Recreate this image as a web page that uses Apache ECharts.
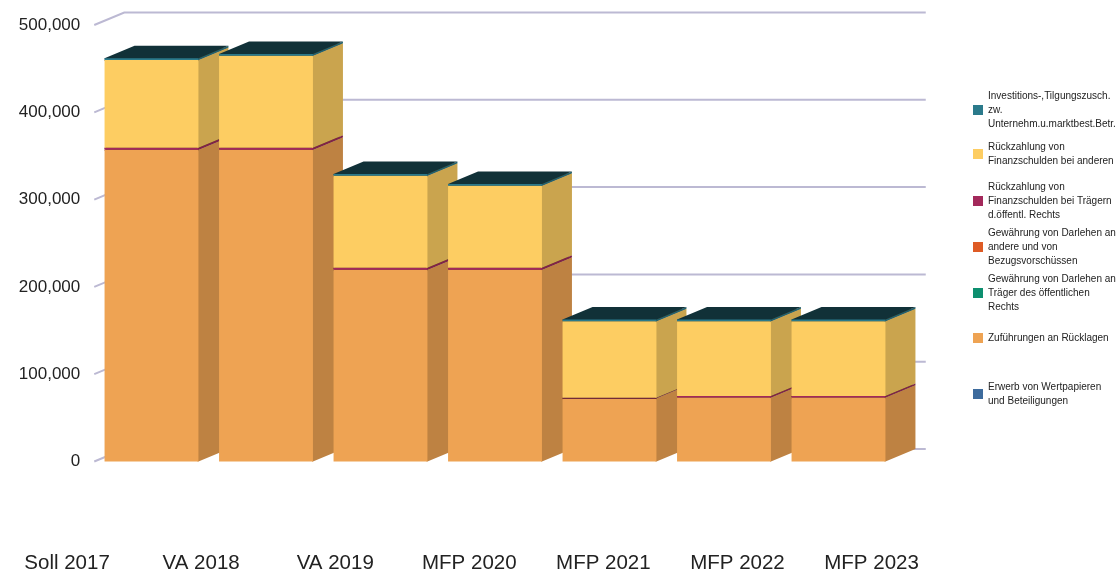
<!DOCTYPE html>
<html>
<head>
<meta charset="utf-8">
<script src="https://cdn.jsdelivr.net/npm/echarts@6/dist/echarts.min.js"></script>
<style>
html, body { margin: 0; padding: 0; background: #fff; }
#chart { width: 1116px; height: 572px; }
</style>
</head>
<body>
<div id="chart"></div>
<script>
// categories + tick values
var years = ['Soll 2017', 'VA 2018', 'VA 2019', 'MFP 2020', 'MFP 2021', 'MFP 2022', 'MFP 2023'];
var yTicks = [0, 100000, 200000, 300000, 400000, 500000];

// values per stack segment (bottom -> top)
var erwerb          = [0, 0, 0, 0, 0, 0, 0];
var ruecklagen      = [357200, 357200, 219700, 219700, 72400, 73300, 73300];
var darlehenTraeger = [0, 0, 0, 0, 0, 0, 0];
var darlehenAndere  = [0, 0, 0, 0, 0, 0, 0];
var rueckTraeger    = [2300, 2300, 2300, 2300, 500, 1700, 1700];
var rueckAndere     = [100400, 105300, 105400, 93900, 87700, 85600, 85600];
var zuschuss        = [2000, 2000, 2000, 2000, 2000, 2000, 2000];

var stack = [
    { name: 'Erwerb von Wertpapieren\nund Beteiligungen', values: erwerb, color: '#3D6B9D' },
    { name: 'Zuführungen an Rücklagen', values: ruecklagen, color: '#EEA353' },
    { name: 'Gewährung von Darlehen an\nTräger des öffentlichen\nRechts', values: darlehenTraeger, color: '#0D8F6F' },
    { name: 'Gewährung von Darlehen an\nandere und von\nBezugsvorschüssen', values: darlehenAndere, color: '#DE5B25' },
    { name: 'Rückzahlung von\nFinanzschulden bei Trägern\nd.öffentl. Rechts', values: rueckTraeger, color: '#A3295B' },
    { name: 'Rückzahlung von\nFinanzschulden bei anderen', values: rueckAndere, color: '#FDCD62' },
    { name: 'Investitions-,Tilgungszusch.\nzw.\nUnternehm.u.marktbest.Betr.', values: zuschuss, color: '#2B7A8B' }
];

// 3d depth offset
var DX = 30, DY = -12.5;
var FONT = '"Liberation Sans", Arial, sans-serif';

function shade(hex, f) {
    var n = parseInt(hex.slice(1), 16);
    var r = Math.round(((n >> 16) & 255) * f);
    var g = Math.round(((n >> 8) & 255) * f);
    var b = Math.round((n & 255) * f);
    return 'rgb(' + r + ',' + g + ',' + b + ')';
}

function boxItem(color) {
    return function (params, api) {
        var c = api.value(0);
        var lo = api.coord([c, api.value(1)]);
        var hi = api.coord([c, api.value(2)]);
        var h = lo[1] - hi[1];
        if (h <= 0.05) return null;
        var w = api.size([1, 0])[0] * 0.82;
        var x0 = lo[0] - w / 2, x1 = lo[0] + w / 2;
        var yb = lo[1], yt = hi[1];
        // side + top start a bit under the front face so no seam shows
        return {
            type: 'group',
            children: [
                { type: 'polygon', shape: { points: [[x1 - 1, yb], [x1, yb], [x1 + DX, yb + DY], [x1 + DX, yt + DY], [x1, yt], [x1 - 1, yt]] },
                  style: { fill: shade(color, 0.8) } },
                { type: 'polygon', shape: { points: [[x0, yt + 1], [x1, yt + 1], [x1, yt], [x1 + DX, yt + DY], [x0 + DX, yt + DY], [x0, yt]] },
                  style: { fill: shade(color, 0.4) } },
                { type: 'rect', shape: { x: x0, y: yt, width: x1 - x0, height: h },
                  style: { fill: color } }
            ]
        };
    };
}

var series = [];

// back-plane grid lines with diagonal ticks
series.push({
    type: 'custom',
    silent: true,
    z: 1,
    data: yTicks.map(function (v) { return [0, v]; }),
    encode: { x: 0, y: 1 },
    renderItem: function (params, api) {
        var cs = params.coordSys;
        var y = api.coord([0, api.value(1)])[1];
        return {
            type: 'polyline',
            shape: { points: [[cs.x, y], [cs.x + DX, y + DY], [cs.x + cs.width + DX, y + DY]] },
            style: { stroke: '#bcb9d3', lineWidth: 2, fill: null }
        };
    }
});

var base = years.map(function () { return 0; });
stack.forEach(function (s) {
    var data = s.values.map(function (v, i) {
        var item = [i, base[i], base[i] + v];
        base[i] += v;
        return item;
    });
    series.push({
        type: 'custom',
        name: s.name,
        z: 2,
        itemStyle: { color: s.color },
        data: data,
        encode: { x: 0, y: [1, 2] },
        renderItem: boxItem(s.color)
    });
});

// legend: one block per entry, top to bottom
var legendOrder = stack.slice().reverse();
var legendTops = [89, 140, 180, 226, 272, 331, 380];
var legends = legendOrder.map(function (s, i) {
    return {
        data: [s.name],
        orient: 'vertical',
        left: 973,
        top: legendTops[i],
        padding: 0,
        itemWidth: 10,
        itemHeight: 10,
        icon: 'rect',
        selectedMode: false,
        textStyle: { fontSize: 10, lineHeight: 14, color: '#222', fontFamily: FONT }
    };
});

var chart = echarts.init(document.getElementById('chart'));
chart.setOption({
    animation: false,
    legend: legends,
    grid: [
        { left: 94.25, width: 801.5, top: 25, bottom: 110.5 },
        { left: -5, width: 943.6, bottom: 27, height: 1 }
    ],
    xAxis: [
        { type: 'category', gridIndex: 0, data: years,
          axisLine: { show: false }, axisTick: { show: false }, axisLabel: { show: false } },
        { type: 'category', gridIndex: 1, data: years,
          axisLine: { show: false }, axisTick: { show: false },
          axisLabel: { margin: 9, fontSize: 20.5, color: '#222', fontFamily: FONT } }
    ],
    yAxis: [
        { type: 'value', gridIndex: 0, min: 0, max: 500000, interval: 100000,
          axisLine: { show: false }, axisTick: { show: false }, splitLine: { show: false },
          axisLabel: { margin: 14, fontSize: 17, color: '#222', fontFamily: FONT } },
        { type: 'value', gridIndex: 1, show: false }
    ],
    series: series
});
</script>
</body>
</html>
